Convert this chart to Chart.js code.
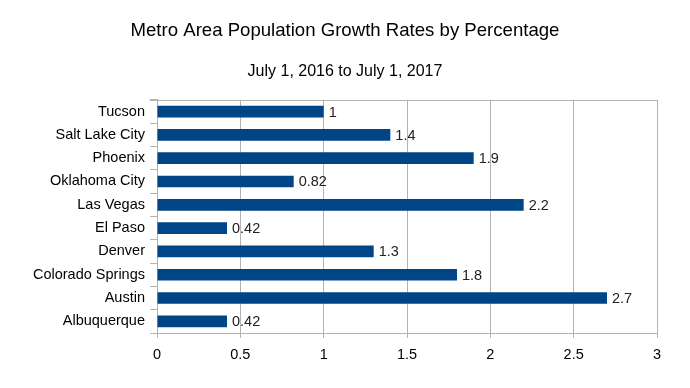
<!DOCTYPE html>
<html>
<head>
<meta charset="utf-8">
<script src="https://cdn.jsdelivr.net/npm/chart.js@4"></script>
<style>
  html, body { margin: 0; padding: 0; background: #fff; }
  #wrap { width: 690px; height: 388px; }
</style>
</head>
<body>
<div id="wrap"><canvas id="growthChart" width="690" height="388"></canvas></div>
<script>
const cities = ["Albuquerque", "Austin", "Colorado Springs", "Denver", "El Paso",
                "Las Vegas", "Oklahoma City", "Phoenix", "Salt Lake City", "Tucson"];
const growthRates = [0.42, 2.7, 1.8, 1.3, 0.42, 2.2, 0.82, 1.9, 1.4, 1];
const xTicks = [0, 0.5, 1, 1.5, 2, 2.5, 3];

const fontName = "'Liberation Sans', Arial, sans-serif";

// value labels at the end of each bar
const barLabels = {
    id: "barLabels",
    afterDatasetsDraw(chart) {
        let ctx = chart.ctx;
        let meta = chart.getDatasetMeta(0);
        ctx.save();
        ctx.font = "14.5px " + fontName;
        ctx.fillStyle = "#222";
        ctx.textAlign = "left";
        ctx.textBaseline = "middle";
        meta.data.forEach((bar, i) => {
            ctx.fillText(String(growthRates[i]), bar.x + 5, bar.y + 1);
        });
        ctx.restore();
    }
};

// top border of the plot area
const topBorder = {
    id: "topBorder",
    beforeDatasetsDraw(chart) {
        let a = chart.chartArea;
        let ctx = chart.ctx;
        ctx.save();
        ctx.strokeStyle = "#b3b3b3";
        ctx.lineWidth = 1;
        ctx.beginPath();
        ctx.moveTo(a.left - 7, Math.round(a.top) + 0.5);
        ctx.lineTo(a.right, Math.round(a.top) + 0.5);
        ctx.stroke();
        ctx.restore();
    }
};

let ctx = document.getElementById("growthChart").getContext("2d");
let chart = new Chart(ctx, {
    type: "bar",
    data: {
        labels: cities,
        datasets: [{
            data: growthRates,
            backgroundColor: "#004586",
            borderWidth: 0,
            categoryPercentage: 1,
            barPercentage: 0.5
        }]
    },
    options: {
        indexAxis: "y",
        responsive: false,
        animation: false,
        layout: { padding: { left: 33, right: 33, top: 0, bottom: 0 } },
        plugins: {
            legend: { display: false },
            tooltip: { enabled: false },
            title: {
                display: true,
                text: "Metro Area Population Growth Rates by Percentage",
                color: "#000",
                font: { family: fontName, size: 18.6, weight: "normal" },
                padding: { top: 20, bottom: 20 }
            },
            subtitle: {
                display: true,
                text: "July 1, 2016 to July 1, 2017",
                color: "#000",
                font: { family: fontName, size: 16, weight: "normal" },
                padding: { top: 0, bottom: 18.4 }
            }
        },
        scales: {
            x: {
                min: 0,
                max: 3,
                afterBuildTicks(scale) {
                    scale.ticks = xTicks.map(v => ({ value: v }));
                },
                afterFit(scale) { scale.height = 55; },
                grid: { color: "#b3b3b3", tickLength: 5, tickColor: "#b3b3b3" },
                border: { color: "#b3b3b3" },
                ticks: {
                    color: "#000",
                    padding: 8,
                    font: { family: fontName, size: 14.5 },
                    callback: v => String(v)
                }
            },
            y: {
                reverse: true,
                afterFit(scale) { scale.width = 157 - 33; },
                grid: { drawOnChartArea: false, tickLength: 7, color: "#b3b3b3", offset: true },
                border: { color: "#b3b3b3" },
                ticks: {
                    color: "#000",
                    padding: 5,
                    font: { family: fontName, size: 14.5 }
                }
            }
        }
    },
    plugins: [barLabels, topBorder]
});
</script>
</body>
</html>
